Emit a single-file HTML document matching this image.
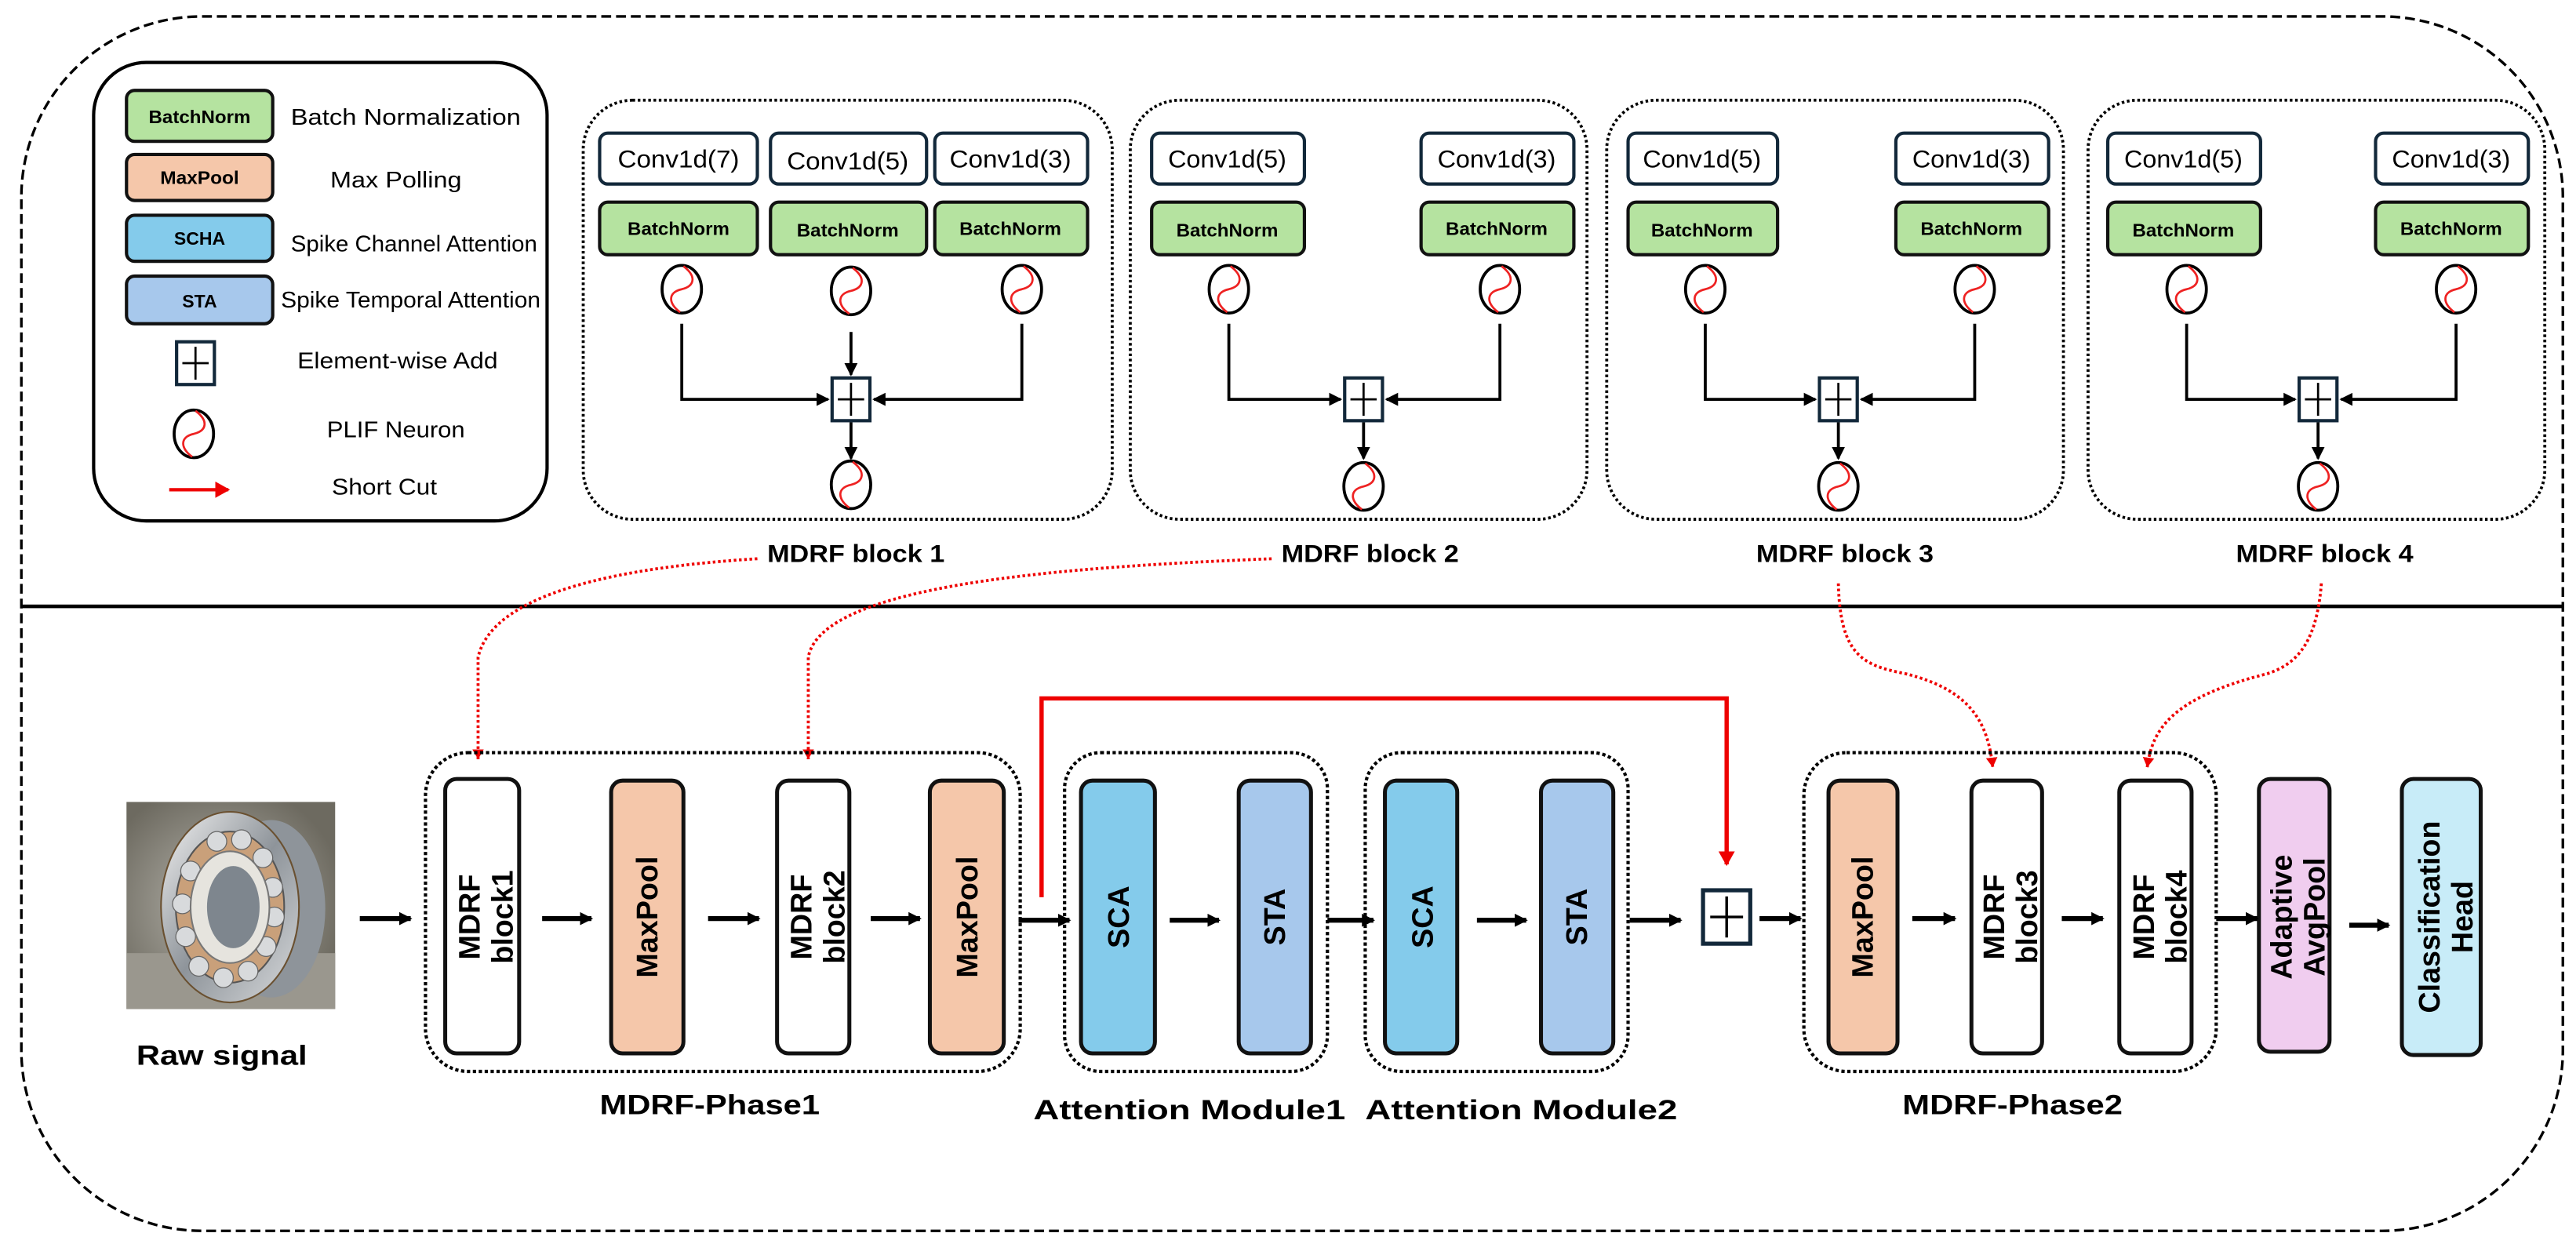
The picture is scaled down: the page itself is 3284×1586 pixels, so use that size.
<!DOCTYPE html>
<html><head><meta charset="utf-8"><style>
html,body{margin:0;padding:0;background:#fff}
svg{display:block}
text{font-family:"Liberation Sans",sans-serif}
</style></head><body>
<svg width="3284" height="1586" viewBox="0 0 1568 757" preserveAspectRatio="none" xmlns="http://www.w3.org/2000/svg">
<defs>
<marker id="ab" markerWidth="8" markerHeight="8" refX="7" refY="4" orient="auto" markerUnits="userSpaceOnUse"><path d="M0,0 L8,4 L0,8 z" fill="#000"/></marker>
<marker id="ar" markerWidth="9" markerHeight="10" refX="8" refY="5" orient="auto" markerUnits="userSpaceOnUse"><path d="M0,0 L9,5 L0,10 z" fill="#e00"/></marker>
<marker id="ars" markerWidth="6" markerHeight="7" refX="6" refY="3.5" orient="auto" markerUnits="userSpaceOnUse"><path d="M0,0 L6,3.5 L0,7 z" fill="#e00"/></marker>
<g id="nr"><ellipse cx="0" cy="0" rx="12" ry="14.5" fill="#fff" stroke="#000" stroke-width="1.8"/><path d="M1,-14 C9,-8 8,-2 0,0 C-9,2 -8,9 -1,14" fill="none" stroke="#e22" stroke-width="1.3"/></g>
<g id="pl"><rect x="-11.5" y="-13" width="23" height="26" fill="#fff" stroke="#12283a" stroke-width="2"/><path d="M-8,0 H8 M0,-10 V10" stroke="#000" stroke-width="1.3"/></g>
<radialGradient id="bg1" cx="0.45" cy="0.5" r="0.6"><stop offset="0" stop-color="#b8b6ae"/><stop offset="1" stop-color="#6d6a60"/></radialGradient>
<linearGradient id="met" x1="0" y1="0" x2="1" y2="1"><stop offset="0" stop-color="#f2f2f2"/><stop offset="0.5" stop-color="#8e949a"/><stop offset="1" stop-color="#d8dadc"/></linearGradient>
</defs>

<!-- outer -->
<rect x="13" y="10" width="1547" height="739" rx="110" ry="110" fill="none" stroke="#000" stroke-width="1.6" stroke-dasharray="6,3"/>
<line x1="13" y1="369" x2="1560" y2="369" stroke="#000" stroke-width="2.2"/>

<!-- legend -->
<rect x="57" y="38" width="276" height="279" rx="32" fill="#fff" stroke="#000" stroke-width="2"/>
<g stroke="#111" stroke-width="2">
<rect x="77" y="55" width="89" height="31" rx="5" fill="#b5e3a0"/>
<rect x="77" y="94" width="89" height="28" rx="5" fill="#f5c7aa"/>
<rect x="77" y="131" width="89" height="28" rx="5" fill="#84cbeb"/>
<rect x="77" y="168" width="89" height="29" rx="5" fill="#a7c8ec"/>
</g>
<g font-size="11" font-weight="bold" text-anchor="middle">
<text x="121.5" y="75" textLength="62" lengthAdjust="spacingAndGlyphs">BatchNorm</text>
<text x="121.5" y="112" textLength="48" lengthAdjust="spacingAndGlyphs">MaxPool</text>
<text x="121.5" y="149">SCHA</text>
<text x="121.5" y="187">STA</text>
</g>
<g font-size="13.5" text-anchor="middle">
<text x="247" y="76" textLength="140" lengthAdjust="spacingAndGlyphs">Batch Normalization</text>
<text x="241" y="114" textLength="80" lengthAdjust="spacingAndGlyphs">Max Polling</text>
<text x="252" y="153" textLength="150" lengthAdjust="spacingAndGlyphs">Spike Channel Attention</text>
<text x="250" y="187" textLength="158" lengthAdjust="spacingAndGlyphs">Spike Temporal Attention</text>
<text x="242" y="224" textLength="122" lengthAdjust="spacingAndGlyphs">Element-wise Add</text>
<text x="241" y="266" textLength="84" lengthAdjust="spacingAndGlyphs">PLIF Neuron</text>
<text x="234" y="301" textLength="64" lengthAdjust="spacingAndGlyphs">Short Cut</text>
</g>
<use href="#pl" x="119" y="221"/>
<use href="#nr" x="118" y="264"/>
<line x1="103" y1="298" x2="139" y2="298" stroke="#e00" stroke-width="2" marker-end="url(#ar)"/>

<!-- top blocks -->
<g fill="none" stroke="#000" stroke-width="1.8" stroke-dasharray="1.6,1.6">
<rect x="355" y="61" width="322" height="255" rx="30"/>
<rect x="688" y="61" width="278" height="255" rx="30"/>
<rect x="978" y="61" width="278" height="255" rx="30"/>
<rect x="1271" y="61" width="278" height="255" rx="30"/>
</g>
<g fill="#fff" stroke="#12283a" stroke-width="2">
<rect x="365" y="81" width="96" height="31" rx="5"/><rect x="469" y="81" width="95" height="31" rx="5"/><rect x="569" y="81" width="93" height="31" rx="5"/>
<rect x="701" y="81" width="93" height="31" rx="5"/><rect x="865" y="81" width="93" height="31" rx="5"/>
<rect x="991" y="81" width="91" height="31" rx="5"/><rect x="1154" y="81" width="93" height="31" rx="5"/>
<rect x="1283" y="81" width="93" height="31" rx="5"/><rect x="1446" y="81" width="93" height="31" rx="5"/>
</g>
<g fill="#b5e3a0" stroke="#111" stroke-width="2">
<rect x="365" y="123" width="96" height="32" rx="5"/><rect x="469" y="123" width="95" height="32" rx="5"/><rect x="569" y="123" width="93" height="32" rx="5"/>
<rect x="701" y="123" width="93" height="32" rx="5"/><rect x="865" y="123" width="93" height="32" rx="5"/>
<rect x="991" y="123" width="91" height="32" rx="5"/><rect x="1154" y="123" width="93" height="32" rx="5"/>
<rect x="1283" y="123" width="93" height="32" rx="5"/><rect x="1446" y="123" width="93" height="32" rx="5"/>
</g>
<g font-size="15" text-anchor="middle">
<text x="413" y="102" textLength="74" lengthAdjust="spacingAndGlyphs">Conv1d(7)</text>
<text x="516" y="103" textLength="74" lengthAdjust="spacingAndGlyphs">Conv1d(5)</text>
<text x="615" y="102" textLength="74" lengthAdjust="spacingAndGlyphs">Conv1d(3)</text>
<text x="747" y="102" textLength="72" lengthAdjust="spacingAndGlyphs">Conv1d(5)</text>
<text x="911" y="102" textLength="72" lengthAdjust="spacingAndGlyphs">Conv1d(3)</text>
<text x="1036" y="102" textLength="72" lengthAdjust="spacingAndGlyphs">Conv1d(5)</text>
<text x="1200" y="102" textLength="72" lengthAdjust="spacingAndGlyphs">Conv1d(3)</text>
<text x="1329" y="102" textLength="72" lengthAdjust="spacingAndGlyphs">Conv1d(5)</text>
<text x="1492" y="102" textLength="72" lengthAdjust="spacingAndGlyphs">Conv1d(3)</text>
</g>
<g font-size="11" font-weight="bold" text-anchor="middle">
<text x="413" y="143" textLength="62" lengthAdjust="spacingAndGlyphs">BatchNorm</text>
<text x="516" y="144" textLength="62" lengthAdjust="spacingAndGlyphs">BatchNorm</text>
<text x="615" y="143" textLength="62" lengthAdjust="spacingAndGlyphs">BatchNorm</text>
<text x="747" y="144" textLength="62" lengthAdjust="spacingAndGlyphs">BatchNorm</text>
<text x="911" y="143" textLength="62" lengthAdjust="spacingAndGlyphs">BatchNorm</text>
<text x="1036" y="144" textLength="62" lengthAdjust="spacingAndGlyphs">BatchNorm</text>
<text x="1200" y="143" textLength="62" lengthAdjust="spacingAndGlyphs">BatchNorm</text>
<text x="1329" y="144" textLength="62" lengthAdjust="spacingAndGlyphs">BatchNorm</text>
<text x="1492" y="143" textLength="62" lengthAdjust="spacingAndGlyphs">BatchNorm</text>
</g>
<!-- neurons & connectors -->
<g fill="none" stroke="#000" stroke-width="1.8">
<path d="M415,197 V243 H504" marker-end="url(#ab)"/>
<path d="M622,197 V243 H532" marker-end="url(#ab)"/>
<path d="M518,202 V228" marker-end="url(#ab)"/>
<path d="M518,257 V279" marker-end="url(#ab)"/>
<path d="M748,197 V243 H816" marker-end="url(#ab)"/>
<path d="M913,197 V243 H844" marker-end="url(#ab)"/>
<path d="M830,257 V279" marker-end="url(#ab)"/>
<path d="M1038,197 V243 H1105" marker-end="url(#ab)"/>
<path d="M1202,197 V243 H1133" marker-end="url(#ab)"/>
<path d="M1119,257 V279" marker-end="url(#ab)"/>
<path d="M1331,197 V243 H1397" marker-end="url(#ab)"/>
<path d="M1495,197 V243 H1425" marker-end="url(#ab)"/>
<path d="M1411,257 V279" marker-end="url(#ab)"/>
</g>
<use href="#nr" x="415" y="176"/><use href="#nr" x="518" y="177"/><use href="#nr" x="622" y="176"/><use href="#nr" x="518" y="295"/><use href="#pl" x="518" y="243"/>
<use href="#nr" x="748" y="176"/><use href="#nr" x="913" y="176"/><use href="#nr" x="830" y="296"/><use href="#pl" x="830" y="243"/>
<use href="#nr" x="1038" y="176"/><use href="#nr" x="1202" y="176"/><use href="#nr" x="1119" y="296"/><use href="#pl" x="1119" y="243"/>
<use href="#nr" x="1331" y="176"/><use href="#nr" x="1495" y="176"/><use href="#nr" x="1411" y="296"/><use href="#pl" x="1411" y="243"/>
<g font-size="15" font-weight="bold" text-anchor="middle">
<text x="521" y="342" textLength="108" lengthAdjust="spacingAndGlyphs">MDRF block 1</text>
<text x="834" y="342" textLength="108" lengthAdjust="spacingAndGlyphs">MDRF block 2</text>
<text x="1123" y="342" textLength="108" lengthAdjust="spacingAndGlyphs">MDRF block 3</text>
<text x="1415" y="342" textLength="108" lengthAdjust="spacingAndGlyphs">MDRF block 4</text>
</g>

<!-- red dotted curves -->
<g fill="none" stroke="#e00" stroke-width="1.8" stroke-dasharray="1.6,1.6">
<path d="M461,340 C380,345 300,360 291,400 V462" marker-end="url(#ars)"/>
<path d="M774,340 C650,345 500,355 492,400 V462" marker-end="url(#ars)"/>
<path d="M1119,355 C1120,400 1135,405 1160,410 C1200,420 1210,440 1213,467" marker-end="url(#ars)"/>
<path d="M1413,355 C1410,395 1395,405 1380,410 C1320,425 1310,445 1307,467" marker-end="url(#ars)"/>
</g>

<!-- bearing image -->
<rect x="77" y="488" width="127" height="126" fill="url(#bg1)"/>
<rect x="77" y="580" width="127" height="34" fill="#9a978e"/>
<ellipse cx="165" cy="553" rx="33" ry="54" fill="#8e949a"/>
<ellipse cx="140" cy="552" rx="42" ry="58" fill="url(#met)" stroke="#6a5030" stroke-width="1"/>
<ellipse cx="140" cy="552" rx="33" ry="46" fill="#c9a07a" stroke="#555" stroke-width="1"/>
<g fill="#d8dadc" stroke="#666" stroke-width="0.6">
<circle cx="132" cy="512" r="6"/><circle cx="147" cy="511" r="6"/><circle cx="160" cy="522" r="6"/><circle cx="166" cy="540" r="6"/><circle cx="167" cy="558" r="6"/><circle cx="162" cy="576" r="6"/><circle cx="151" cy="591" r="6"/><circle cx="136" cy="595" r="6"/><circle cx="121" cy="588" r="6"/><circle cx="113" cy="570" r="6"/><circle cx="111" cy="550" r="6"/><circle cx="116" cy="530" r="6"/>
</g>
<ellipse cx="140" cy="552" rx="24" ry="34" fill="#e6e4de" stroke="#777"/>
<ellipse cx="142" cy="552" rx="16" ry="25" fill="#7e868e"/>
<text x="135" y="648" font-size="17" font-weight="bold" text-anchor="middle" textLength="104" lengthAdjust="spacingAndGlyphs">Raw signal</text>

<!-- bottom groups -->
<g fill="none" stroke="#000" stroke-width="2" stroke-dasharray="2,1.6">
<rect x="259" y="458" width="362" height="194" rx="26"/>
<rect x="648" y="458" width="160" height="194" rx="22"/>
<rect x="831" y="458" width="160" height="194" rx="22"/>
<rect x="1098" y="458" width="251" height="194" rx="26"/>
</g>
<g stroke="#111" stroke-width="2.4">
<rect x="271" y="474" width="45" height="167" rx="7" fill="#fff"/>
<rect x="372" y="475" width="44" height="166" rx="7" fill="#f5c7aa"/>
<rect x="473" y="475" width="44" height="166" rx="7" fill="#fff"/>
<rect x="566" y="475" width="45" height="166" rx="7" fill="#f5c7aa"/>
<rect x="658" y="475" width="45" height="166" rx="7" fill="#84cbeb"/>
<rect x="754" y="475" width="44" height="166" rx="7" fill="#a7c8ec"/>
<rect x="843" y="475" width="44" height="166" rx="7" fill="#84cbeb"/>
<rect x="938" y="475" width="44" height="166" rx="7" fill="#a7c8ec"/>
<rect x="1113" y="475" width="42" height="166" rx="7" fill="#f5c7aa"/>
<rect x="1200" y="475" width="43" height="166" rx="7" fill="#fff"/>
<rect x="1290" y="475" width="44" height="166" rx="7" fill="#fff"/>
<rect x="1375" y="474" width="43" height="166" rx="7" fill="#f0cdef"/>
<rect x="1462" y="474" width="48" height="168" rx="7" fill="#c8ecf8"/>
</g>
<g font-size="18" font-weight="bold" text-anchor="middle">
<text transform="translate(300,558) rotate(-90)"><tspan x="0" y="-8">MDRF</tspan><tspan x="0" y="12">block1</tspan></text>
<text transform="translate(400,558) rotate(-90)">MaxPool</text>
<text transform="translate(502,558) rotate(-90)"><tspan x="0" y="-8">MDRF</tspan><tspan x="0" y="12">block2</tspan></text>
<text transform="translate(595,558) rotate(-90)">MaxPool</text>
<text transform="translate(687,558) rotate(-90)">SCA</text>
<text transform="translate(782,558) rotate(-90)">STA</text>
<text transform="translate(872,558) rotate(-90)">SCA</text>
<text transform="translate(966,558) rotate(-90)">STA</text>
<text transform="translate(1140,558) rotate(-90)">MaxPool</text>
<text transform="translate(1228,558) rotate(-90)"><tspan x="0" y="-8">MDRF</tspan><tspan x="0" y="12">block3</tspan></text>
<text transform="translate(1319,558) rotate(-90)"><tspan x="0" y="-8">MDRF</tspan><tspan x="0" y="12">block4</tspan></text>
<text transform="translate(1403,558) rotate(-90)"><tspan x="0" y="-8">Adaptive</tspan><tspan x="0" y="12">AvgPool</tspan></text>
<text transform="translate(1493,558) rotate(-90)"><tspan x="0" y="-8">Classification</tspan><tspan x="0" y="12">Head</tspan></text>
</g>
<g font-size="17" font-weight="bold" text-anchor="middle">
<text x="432" y="678" textLength="134" lengthAdjust="spacingAndGlyphs">MDRF-Phase1</text>
<text x="724" y="681" textLength="190" lengthAdjust="spacingAndGlyphs">Attention Module1</text>
<text x="926" y="681" textLength="190" lengthAdjust="spacingAndGlyphs">Attention Module2</text>
<text x="1225" y="678" textLength="134" lengthAdjust="spacingAndGlyphs">MDRF-Phase2</text>
</g>
<!-- bottom arrows -->
<g stroke="#000" stroke-width="3" fill="none">
<line x1="219" y1="559" x2="250" y2="559" marker-end="url(#ab)"/>
<line x1="330" y1="559" x2="360" y2="559" marker-end="url(#ab)"/>
<line x1="431" y1="559" x2="462" y2="559" marker-end="url(#ab)"/>
<line x1="530" y1="559" x2="560" y2="559" marker-end="url(#ab)"/>
<line x1="620" y1="560" x2="651" y2="560" marker-end="url(#ab)"/>
<line x1="712" y1="560" x2="742" y2="560" marker-end="url(#ab)"/>
<line x1="808" y1="560" x2="836" y2="560" marker-end="url(#ab)"/>
<line x1="899" y1="560" x2="929" y2="560" marker-end="url(#ab)"/>
<line x1="992" y1="560" x2="1023" y2="560" marker-end="url(#ab)"/>
<line x1="1071" y1="559" x2="1096" y2="559" marker-end="url(#ab)"/>
<line x1="1164" y1="559" x2="1190" y2="559" marker-end="url(#ab)"/>
<line x1="1255" y1="559" x2="1280" y2="559" marker-end="url(#ab)"/>
<line x1="1349" y1="559" x2="1374" y2="559" marker-end="url(#ab)"/>
<line x1="1430" y1="563" x2="1454" y2="563" marker-end="url(#ab)"/>
</g>
<g transform="translate(1051,558) scale(1.25)"><use href="#pl"/></g>
<path d="M634,546 V425 H1051 V526" fill="none" stroke="#e00" stroke-width="2.6" marker-end="url(#ar)"/>
</svg>
</body></html>
